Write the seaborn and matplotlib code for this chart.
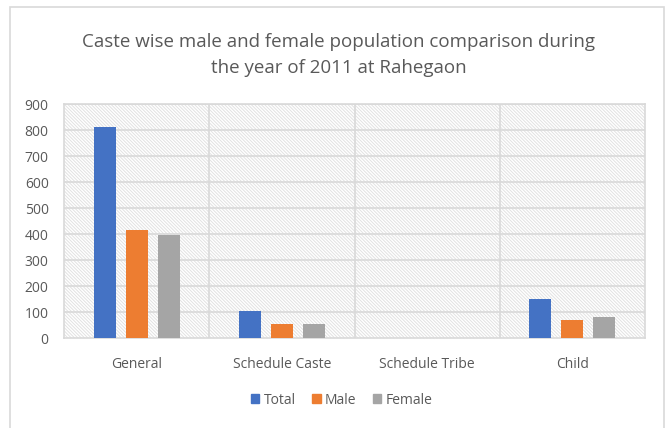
import matplotlib
matplotlib.use("Agg")
import matplotlib.pyplot as plt
import seaborn as sns
import pandas as pd
from matplotlib.patches import Rectangle

categories = ["General", "Schedule Caste", "Schedule Tribe", "Child"]
series = ["Total", "Male", "Female"]
total = [813, 105, 0, 151]
male = [415, 52, 0, 70]
female = [398, 53, 0, 81]
colors = ["#4472C4", "#ED7D31", "#A5A5A5"]
yticks = [0, 100, 200, 300, 400, 500, 600, 700, 800, 900]
title = "Caste wise male and female population comparison during\nthe year of 2011 at Rahegaon"

rows = []
for name, vals in zip(series, [total, male, female]):
    for c, v in zip(categories, vals):
        rows.append({"Category": c, "Series": name, "Value": v})
df = pd.DataFrame(rows)

sns.set_style("white")
plt.rcParams["font.family"] = ["Open Sans", "DejaVu Sans"]
plt.rcParams["hatch.linewidth"] = 0.7

fig = plt.figure(figsize=(6.7, 4.28), dpi=100)
ax = fig.add_axes([64/670, 1-338/428, (645-64)/670, (338-104)/428])

bg = Rectangle((0, 0), 1, 1, transform=ax.transAxes, facecolor="white",
               edgecolor="#e2e2e2", hatch="\\" * 10, lw=0, zorder=0)
ax.add_patch(bg)

sns.barplot(data=df, x="Category", y="Value", hue="Series", order=categories,
            hue_order=series, palette=colors, width=0.66, gap=0.31,
            saturation=1, ax=ax, legend=False, zorder=3, linewidth=0)

ax.set_xlim(-0.5, 3.5)
ax.set_ylim(0, 900)
ax.set_yticks(yticks)
ax.set_yticklabels([str(t) for t in yticks])
for t in yticks[1:]:
    ax.axhline(t, color="#d9d9d9", lw=1.2, zorder=1)
for xv in [0.5, 1.5, 2.5]:
    ax.axvline(xv, color="#d9d9d9", lw=1.2, zorder=1)
for s in ["left", "right", "top", "bottom"]:
    ax.spines[s].set_color("#d9d9d9")
    ax.spines[s].set_linewidth(1.2)
ax.set_xlabel("")
ax.set_ylabel("")
ax.tick_params(axis="both", length=0, labelsize=10, labelcolor="#595959")
ax.tick_params(axis="x", pad=14)
ax.tick_params(axis="y", pad=11)

fig.text(0.505, 1-55/428, title, ha="center", va="center", fontsize=13.5,
         color="#595959", linespacing=1.55)

handles = [Rectangle((0, 0), 1, 1, color=c) for c in colors]
fig.legend(handles, series, loc="center", bbox_to_anchor=(0.51, 1-400/428),
           ncol=3, frameon=False, handlelength=0.6, handleheight=0.6,
           handletextpad=0.3, columnspacing=1.2, fontsize=10,
           labelcolor="#595959")

border = Rectangle((10/670, -0.05), (664-10)/670, 1.05-7/428, transform=fig.transFigure,
                   fill=False, edgecolor="#d9d9d9", lw=1.2)
fig.add_artist(border)

fig.savefig("out.png", dpi=100)
